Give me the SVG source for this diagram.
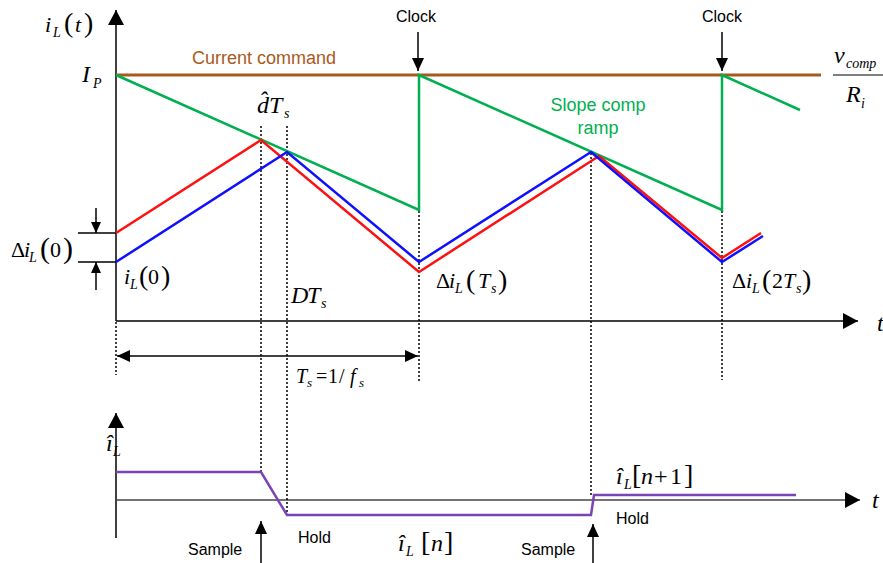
<svg xmlns="http://www.w3.org/2000/svg" width="883" height="563" viewBox="0 0 883 563">
<style>
.sans{font-family:"Liberation Sans",Arial,sans-serif}
.m{font-family:"Liberation Serif","Times New Roman",serif;font-style:italic;fill:#000}
.r{font-family:"Liberation Serif","Times New Roman",serif;font-style:normal}
.ax{stroke:#000;stroke-width:1.5;fill:none}
.dot{stroke:#000;stroke-width:1.5;stroke-dasharray:2,2;fill:none}
.cur{fill:none;stroke-width:2.5;stroke-linejoin:miter}
</style>
<defs>
<marker id="big" markerUnits="userSpaceOnUse" viewBox="0 0 15 16" markerWidth="15" markerHeight="16" refX="15" refY="8" orient="auto-start-reverse"><path d="M0,0 L15,8 L0,16 z" fill="#000"/></marker>
<marker id="med" markerUnits="userSpaceOnUse" viewBox="0 0 13 12" markerWidth="13" markerHeight="12" refX="13" refY="6" orient="auto-start-reverse"><path d="M0,0 L13,6 L0,12 z" fill="#000"/></marker>
<marker id="sml" markerUnits="userSpaceOnUse" viewBox="0 0 11 10" markerWidth="11" markerHeight="10" refX="11" refY="5" orient="auto-start-reverse"><path d="M0,0 L11,5 L0,10 z" fill="#000"/></marker>
</defs>

<g id="connectors">
  <line class="ax" x1="116" y1="321" x2="116" y2="10" marker-end="url(#big)"/>
  <line class="ax" x1="116" y1="321" x2="858" y2="321" marker-end="url(#big)"/>
  <line class="ax" x1="116" y1="538" x2="116" y2="413" marker-end="url(#big)"/>
  <line x1="116" y1="500" x2="860" y2="500" stroke="#444" stroke-width="1.5" marker-end="url(#big)"/>
  <line class="dot" x1="116" y1="322" x2="116" y2="375"/>
  <line class="dot" x1="261" y1="126" x2="261" y2="472"/>
  <line class="dot" x1="287" y1="126" x2="287" y2="515"/>
  <line class="dot" x1="419" y1="211" x2="419" y2="383"/>
  <line class="dot" x1="591" y1="153" x2="591" y2="496"/>
  <line class="dot" x1="722" y1="211" x2="722" y2="380"/>
  <line class="ax" x1="117" y1="356" x2="418" y2="356" marker-start="url(#med)" marker-end="url(#med)"/>
  <line class="ax" x1="418" y1="32" x2="418" y2="71" marker-end="url(#med)"/>
  <line class="ax" x1="722" y1="32" x2="722" y2="71" marker-end="url(#med)"/>
  <line class="ax" x1="261" y1="563" x2="261" y2="521" marker-end="url(#med)"/>
  <line class="ax" x1="593" y1="563" x2="593" y2="524" marker-end="url(#med)"/>
  <line class="ax" x1="78" y1="233" x2="116" y2="233" stroke-width="1"/>
  <line class="ax" x1="78" y1="262" x2="116" y2="262" stroke-width="1"/>
  <line class="ax" x1="96" y1="208" x2="96" y2="233" marker-end="url(#sml)"/>
  <line class="ax" x1="96" y1="290" x2="96" y2="262" marker-end="url(#sml)"/>
  <line x1="833" y1="75" x2="883" y2="75" stroke="#000" stroke-width="1.2"/>
  <line x1="116" y1="75" x2="821" y2="75" stroke="#a85a1e" stroke-width="3"/>
  <polyline class="cur" stroke="#00b050" points="116,75 419,210 419,75 722,210 722,75 800,110"/>
  <polyline class="cur" stroke="#ff1010" points="116,233 261,140 419,272 599,156 722,258 761,233"/>
  <polyline class="cur" stroke="#1010ff" points="116,262 287,152 419,262 591,152 722,262 763,236"/>
  <polyline class="cur" stroke="#7b43b8" stroke-width="2" points="116,472 261,472 287,515 591,515 594,495 796,495"/>
</g>

<g id="label-iLt">
  <text class="m" font-size="22" y="32"><tspan x="45">i</tspan><tspan x="53" dy="5" font-size="14">L</tspan><tspan class="r" x="64" dy="-5" font-size="28">(</tspan><tspan x="75">t</tspan><tspan class="r" x="84" font-size="28">)</tspan></text>
</g>
<g id="label-IP">
  <text class="m" font-size="24" y="82"><tspan x="82">I</tspan><tspan x="93" dy="6" font-size="14">P</tspan></text>
</g>
<g id="label-current-command">
  <text class="sans" x="192" y="64" font-size="18" fill="#a85a1e">Current command</text>
</g>
<g id="label-clock1"><text class="sans" x="396" y="22" font-size="16">Clock</text></g>
<g id="label-clock2"><text class="sans" x="702" y="22" font-size="16">Clock</text></g>
<g id="label-vcomp">
  <text class="m" font-size="24" y="63"><tspan x="834">v</tspan><tspan x="846" dy="5" font-size="14">comp</tspan></text>
  <text class="m" font-size="24" y="102"><tspan x="846">R</tspan><tspan x="861" dy="6" font-size="14">i</tspan></text>
</g>
<g id="label-dhat">
  <text class="m" font-size="24" y="113"><tspan x="257">d̂</tspan><tspan x="269">T</tspan><tspan x="284" dy="5" font-size="14">s</tspan></text>
</g>
<g id="label-slope">
  <text class="sans" font-size="18" fill="#00b050" text-anchor="middle"><tspan x="598" y="111">Slope comp</tspan><tspan x="598" y="134">ramp</tspan></text>
</g>
<g id="label-di0">
  <text class="m" font-size="22" y="257"><tspan class="r" x="11">Δ</tspan><tspan x="24">i</tspan><tspan x="29" dy="5" font-size="14">L</tspan><tspan class="r" x="40" dy="-4" font-size="30">(</tspan><tspan class="r" x="50" dy="-1">0</tspan><tspan class="r" x="63" dy="1" font-size="30">)</tspan></text>
</g>
<g id="label-iL0">
  <text class="m" font-size="22" y="284"><tspan x="124">i</tspan><tspan x="130" dy="5" font-size="14">L</tspan><tspan class="r" x="139" dy="-4" font-size="28">(</tspan><tspan class="r" x="148" dy="-1">0</tspan><tspan class="r" x="161" dy="1" font-size="28">)</tspan></text>
</g>
<g id="label-DTs">
  <text class="m" font-size="24" y="303"><tspan x="291">D</tspan><tspan x="307">T</tspan><tspan x="321" dy="5" font-size="14">s</tspan></text>
</g>
<g id="label-diTs">
  <text class="m" font-size="22" y="288"><tspan class="r" x="436">Δ</tspan><tspan x="449">i</tspan><tspan x="455" dy="5" font-size="14">L</tspan><tspan class="r" x="466" dy="-4" font-size="28">(</tspan><tspan x="478" dy="-1">T</tspan><tspan x="491" dy="5" font-size="14">s</tspan><tspan class="r" x="498" dy="-4" font-size="28">)</tspan></text>
</g>
<g id="label-di2Ts">
  <text class="m" font-size="22" y="288"><tspan class="r" x="732">Δ</tspan><tspan x="746">i</tspan><tspan x="752" dy="5" font-size="14">L</tspan><tspan class="r" x="762" dy="-4" font-size="28">(</tspan><tspan class="r" x="772" dy="-1">2</tspan><tspan x="783">T</tspan><tspan x="796" dy="5" font-size="14">s</tspan><tspan class="r" x="802" dy="-4" font-size="28">)</tspan></text>
</g>
<g id="label-t-top"><text class="m" font-size="24" x="877" y="331">t</text></g>
<g id="label-Ts">
  <text class="m" font-size="20" y="383"><tspan x="296">T</tspan><tspan x="307" dy="4" font-size="13">s</tspan><tspan class="r" x="316" dy="-4">=</tspan><tspan class="r" x="328">1</tspan><tspan class="r" x="339">/</tspan><tspan x="350">f</tspan><tspan x="359" dy="4" font-size="13">s</tspan></text>
</g>
<g id="label-ihat-axis">
  <text class="m" font-size="24" y="451"><tspan x="106">î</tspan><tspan x="113" dy="5" font-size="14">L</tspan></text>
</g>
<g id="label-t-bottom"><text class="m" font-size="24" x="872" y="508">t</text></g>
<g id="label-sample1"><text class="sans" x="188" y="555" font-size="16">Sample</text></g>
<g id="label-hold1"><text class="sans" x="298" y="543" font-size="16">Hold</text></g>
<g id="label-sample2"><text class="sans" x="521" y="555" font-size="16">Sample</text></g>
<g id="label-hold2"><text class="sans" x="616" y="524" font-size="16">Hold</text></g>
<g id="label-iLn">
  <text class="m" font-size="24" y="551"><tspan x="398">î</tspan><tspan x="406" dy="5" font-size="14">L</tspan><tspan class="r" x="421" dy="-5" font-size="28">[</tspan><tspan x="431">n</tspan><tspan class="r" x="444" font-size="28">]</tspan></text>
</g>
<g id="label-iLn1">
  <text class="m" font-size="24" y="484"><tspan x="616">î</tspan><tspan x="624" dy="5" font-size="14">L</tspan><tspan class="r" x="632" dy="-5" font-size="28">[</tspan><tspan x="641">n</tspan><tspan class="r" x="654">+</tspan><tspan class="r" x="670">1</tspan><tspan class="r" x="684" font-size="28">]</tspan></text>
</g>
</svg>
